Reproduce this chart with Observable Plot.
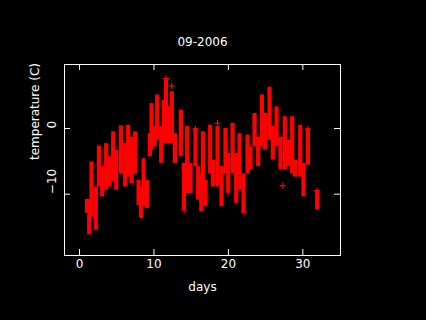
<!DOCTYPE html>
<html>
<head>
<meta charset="utf-8">
<script src="https://cdn.jsdelivr.net/npm/d3@7"></script>
<script src="https://cdn.jsdelivr.net/npm/@observablehq/plot@0.6"></script>
<style>
  html, body { margin: 0; padding: 0; background: #000; }
  #chart { width: 426px; height: 320px; }
</style>
</head>
<body>
<div id="chart"></div>
<script>
// Streaks of readings: time (days), highest and lowest temperature (C)
const days = [0.99,1.30,1.61,2.19,2.60,3.05,3.58,4.03,4.52,4.93,5.55,6.13,6.54,6.99,7.48,7.93,8.28,8.60,9.05,9.45,9.67,10.08,10.43,10.97,11.33,11.60,11.87,12.40,12.81,13.61,14.02,14.46,14.91,15.58,15.94,16.35,16.57,16.93,17.55,17.91,18.54,19.08,19.61,19.97,20.56,21.05,21.50,22.04,22.57,22.97,23.51,24.00,24.50,24.94,25.53,25.97,26.47,27.00,27.58,28.08,28.57,28.97,29.65,30.09,30.68,31.93];
const highs = [-10.8,-10.9,-5.1,-8.9,-2.7,-5.8,-2.3,-4.3,-0.5,-3.3,0.4,-2.3,0.5,-1.3,-0.5,-7.9,-8.9,-4.6,-7.9,-0.8,3.8,0.3,5.1,0.3,4.3,7.4,3.3,5.6,-0.8,2.8,-5.3,0.3,-5.3,0.0,-5.8,-6.9,-0.5,-7.9,0.5,-4.8,0.3,-5.8,0.0,-3.8,0.8,-3.8,-0.8,-6.9,-1.0,-2.8,2.3,-1.3,5.1,2.3,6.3,0.3,3.3,-1.3,1.8,-1.8,1.8,-4.8,0.5,-5.3,0.0,-9.4];
const lows = [-12.9,-16.2,-13.5,-15.5,-8.9,-10.4,-9.4,-8.9,-8.1,-9.4,-6.9,-8.9,-7.4,-8.4,-6.9,-11.7,-13.7,-11.9,-12.2,-4.3,-3.3,-2.8,-1.8,-5.3,-2.3,0.3,-2.3,-2.3,-5.3,-4.3,-12.4,-9.9,-9.9,-5.8,-10.9,-12.7,-8.9,-11.9,-6.9,-8.9,-8.9,-11.9,-6.9,-9.9,-6.9,-11.4,-9.4,-12.9,-6.9,-6.3,-2.8,-5.8,-2.8,-3.3,-1.8,-4.8,-2.8,-6.3,-6.3,-5.8,-6.9,-7.4,-7.4,-10.4,-5.6,-12.4];
// Isolated readings
const pointDays = [11.60,12.38,18.54,15.58,30.68,27.31,31.93,22.10,14.05];
const pointTemps = [7.6,6.5,0.8,-0.1,-0.1,-8.7,-9.5,-12.7,-12.4];
// Axis ticks and labels
const xTicks = [0,10,20,30];
const xTickLabels = ["0","10","20","30"];
const yTicks = [-10,0];
const yTickLabels = ["\u221210","0"];
const title = "09-2006";
const xLabel = "days";
const yLabel = "temperature (C)";

const streaks = days.map((d,i) => ({day: d, hi: highs[i], lo: lows[i]}));
const points = pointDays.map((d,i) => ({day: d, temp: pointTemps[i]}));

const W = 426, H = 320, mL = 64, mR = 86, mT = 64, mB = 65;
const fw = W - mL - mR, fh = H - mT - mB, tick = 6;
const font = "DejaVu Sans, sans-serif";

const chart = Plot.plot({
  width: W, height: H,
  marginLeft: mL, marginRight: mR, marginTop: mT, marginBottom: mB,
  style: {background: "#000", color: "#fff", fontFamily: font, fontSize: "12px"},
  x: {domain: [-2.02, 35.06], axis: null},
  y: {domain: [-19.34, 9.75], axis: null},
  marks: [
    Plot.ruleX(streaks, {x: "day", y1: "lo", y2: "hi", stroke: "#ff0000", strokeWidth: 4.2}),
    Plot.dot(points, {x: "day", y: "temp", symbol: "plus", r: 2.2, stroke: "#ff0000", strokeWidth: 1.2}),
    Plot.frame({stroke: "#fff", strokeWidth: 1}),
    Plot.ruleX(xTicks, {x: d => d, stroke: "#fff", insetTop: fh - tick}),
    Plot.ruleX(xTicks, {x: d => d, stroke: "#fff", insetBottom: fh - tick}),
    Plot.ruleY(yTicks, {y: d => d, stroke: "#fff", insetRight: fw - tick}),
    Plot.ruleY(yTicks, {y: d => d, stroke: "#fff", insetLeft: fw - tick}),
    Plot.text(xTicks, {x: d => d, text: (d, i) => xTickLabels[i], frameAnchor: "bottom", dy: 12, fill: "#fff", fontSize: 12}),
    Plot.text(yTicks, {y: d => d, text: (d, i) => yTickLabels[i], frameAnchor: "left", dx: -12, rotate: -90, fill: "#fff", fontSize: 12}),
    Plot.text([title], {text: d => d, frameAnchor: "top", dy: -27, fill: "#fff", fontSize: 12}),
    Plot.text([xLabel], {text: d => d, frameAnchor: "bottom", dy: 35, fill: "#fff", fontSize: 12}),
    Plot.text([yLabel], {text: d => d, frameAnchor: "left", dx: -29, rotate: -90, fill: "#fff", fontSize: 12})
  ]
});
document.getElementById("chart").appendChild(chart);
</script>
</body>
</html>
